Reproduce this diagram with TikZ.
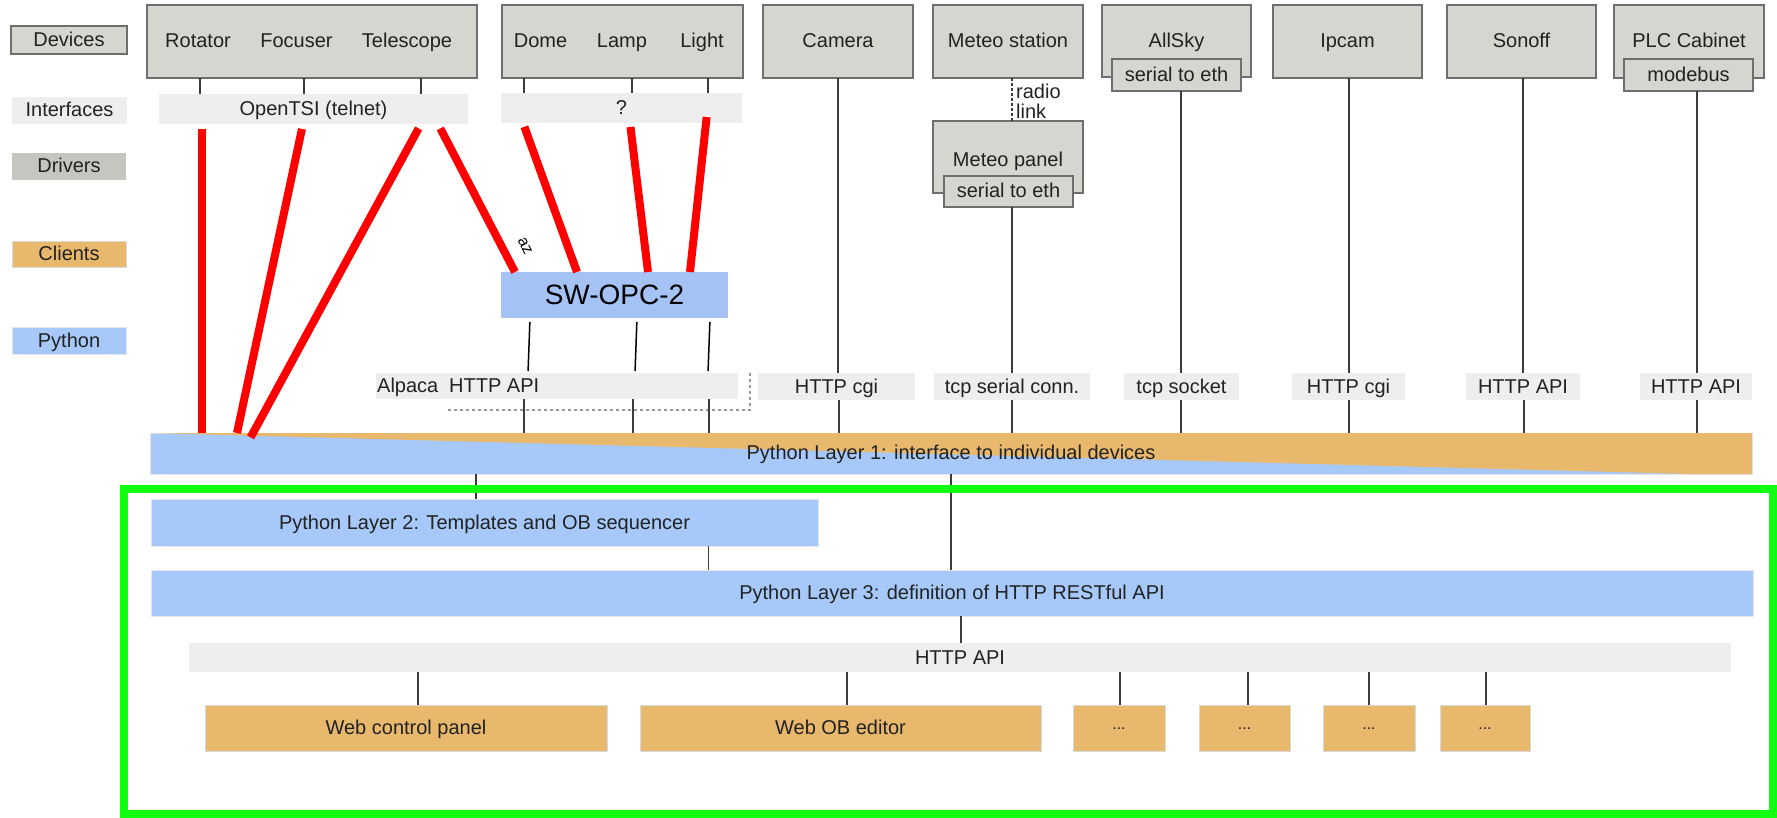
\documentclass[tikz,border=0pt]{standalone}
\usepackage{fontspec}
\setmainfont{Liberation Sans}
\usetikzlibrary{calc}
\definecolor{devfill}{HTML}{D4D6D0}
\definecolor{devline}{HTML}{6E6E6E}
\definecolor{iffill}{HTML}{EEEEEE}
\definecolor{drvfill}{HTML}{C4C6C0}
\definecolor{clifill}{HTML}{E8B86C}
\definecolor{pyfill}{HTML}{A6C9F9}
\definecolor{opcfill}{HTML}{A4C2F4}
\definecolor{wirecol}{HTML}{3C3C3C}
\definecolor{txtcol}{HTML}{222222}
\definecolor{framecol}{HTML}{11FF11}

% box from corner to corner: style, name, x1, y1, x2, y2, text
\newcommand\mkbox[7]{\node[#1, minimum width={#5-#3}, minimum height={#6-#4}]
  (#2) at ({(#3+#5)/2},{(#4+#6)/2}) {#7};}
% vertical wire at a given x between two node anchors
\newcommand\vw[3]{\draw[wire] (#1,0 |- #2) -- (#1,0 |- #3);}

\begin{document}
\begin{tikzpicture}[x=1pt,y=-1pt,
  every node/.style={font=\fontsize{20}{23}\selectfont, text=txtcol},
  box/.style={inner sep=0pt, outer sep=0pt},
  devbox/.style={box, fill=devfill, draw=devline, line width=2pt, text height=14pt, text depth=1pt},
  ifbox/.style={box, fill=iffill, text height=14pt, text depth=1pt},
  drvbox/.style={box, fill=drvfill, text height=14pt, text depth=1pt},
  clibox/.style={box, fill=clifill, draw=black!15, line width=0.8pt, text height=14pt, text depth=1pt},
  pybox/.style={box, fill=pyfill, draw=black!10, line width=0.8pt, text height=14pt, text depth=1pt},
  lbl/.style={anchor=base, inner sep=0pt},
  wire/.style={draw=wirecol, line width=1.8pt},
  redwire/.style={draw=red, line width=8pt},
  dots/.style={font=\fontsize{16}{18}\selectfont, text height=3pt},
]
\useasboundingbox (0,0) rectangle (1777,818);

% ---------- legend ----------
\mkbox{devbox}{lgdev}{11}{26}{127}{54}{Devices}
\mkbox{ifbox}{lgif}{12}{97}{127}{124}{Interfaces}
\mkbox{drvbox}{lgdrv}{12}{153}{126}{180}{Drivers}
\mkbox{clibox}{lgcli}{12}{241}{126}{267}{Clients}
\mkbox{pybox}{lgpy}{12}{327}{126}{354}{Python}

% ---------- devices ----------
\mkbox{devbox}{grpa}{147}{5}{477}{78}{}
\node[lbl] (rot) at (198,48) {Rotator};
\node[lbl] (foc) at (296.5,48) {Focuser};
\node[lbl] (tel) at (407,48) {Telescope};
\mkbox{devbox}{grpb}{502}{5}{743}{78}{}
\node[lbl] (dome) at (540.5,48) {Dome};
\node[lbl] (lamp) at (622,48) {Lamp};
\node[lbl] (light) at (702,48) {Light};
\mkbox{devbox}{cam}{763}{5}{913}{78}{Camera}
\mkbox{devbox}{meteo}{933}{5}{1083}{78}{Meteo station}
\mkbox{devbox}{allsky}{1102}{5}{1251}{77}{AllSky}
\mkbox{devbox}{ipcam}{1273}{5}{1422}{78}{Ipcam}
\mkbox{devbox}{sonoff}{1447}{5}{1596}{78}{Sonoff}
\mkbox{devbox}{plc}{1614}{5}{1764}{78}{PLC Cabinet}
\mkbox{devbox}{alleth}{1112}{59}{1241}{91}{serial to eth}
\mkbox{devbox}{modbus}{1624}{59}{1753}{91}{modebus}

% meteo panel reached over a radio link
\mkbox{devbox}{mpanel}{933}{121}{1083}{193}{}
\node[lbl] (mpaneltxt) at (1008,167) {Meteo panel};
\mkbox{devbox}{mpeth}{944}{176}{1073}{207}{serial to eth}
\draw[wire, dash pattern=on 3pt off 2pt, line width=1.5pt] (1012,0 |- meteo.south) -- (1012,0 |- mpanel.north);
\node[anchor=west, inner sep=0pt] (radio) at (1016,91) {radio};
\node[anchor=west, inner sep=0pt] (link) at (1016,111) {link};

% ---------- interfaces ----------
\mkbox{ifbox}{opentsi}{159}{94}{468}{124}{OpenTSI (telnet)}
\mkbox{ifbox}{qbox}{501}{93}{742}{123}{?}
\mkbox{ifbox}{alpaca}{376}{373}{738}{399}{}
\node[anchor=base west, inner sep=0pt] (alpacatxt) at (377,392) {Alpaca};
\node[anchor=base west, inner sep=0pt] (alpapi) at (449,392) {HTTP API};
\draw[dashed, draw=black!40, line width=1.2pt] (448,410) -- (750,410) -- (750,373);
\mkbox{ifbox}{ifcam}{758}{373}{915}{400}{HTTP cgi}
\mkbox{ifbox}{ifmet}{934}{373}{1090}{400}{tcp serial conn.}
\mkbox{ifbox}{ifsky}{1124}{373}{1239}{400}{tcp socket}
\mkbox{ifbox}{ifip}{1292}{373}{1405}{400}{HTTP cgi}
\mkbox{ifbox}{ifson}{1466}{373}{1580}{400}{HTTP API}
\mkbox{ifbox}{ifplc}{1640}{373}{1752}{400}{HTTP API}

% ---------- driver ----------
\mkbox{box, fill=opcfill, font=\fontsize{28}{32}\selectfont, text=black}{swopc}{501}{272}{728}{318}{SW-OPC-2}

% ---------- python layers ----------
\mkbox{pybox}{py1}{150}{433}{1752}{474}{}
\fill[clifill] (py1.north west) -- (py1.north east) -- (py1.south east)
  -- ($(py1.south east)+(-62,0)$) -- cycle;
\node[text height=14pt, text depth=1pt] (py1txt) at (951,453) {Python Layer 1: interface to individual devices};
\mkbox{pybox}{py2}{151}{499}{818}{546}{Python Layer 2: Templates and OB sequencer}
\mkbox{pybox}{py3}{151}{570}{1753}{616}{Python Layer 3: definition of HTTP RESTful API}
\mkbox{ifbox}{api}{189}{643}{1731}{672}{HTTP API}

% ---------- clients ----------
\mkbox{clibox}{webcp}{205}{705}{607}{751}{Web control panel}
\mkbox{clibox}{webob}{640}{705}{1041}{751}{Web OB editor}
\mkbox{clibox,dots}{cla}{1073}{705}{1165}{751}{...}
\mkbox{clibox,dots}{clb}{1199}{705}{1290}{751}{...}
\mkbox{clibox,dots}{clc}{1323}{705}{1415}{751}{...}
\mkbox{clibox,dots}{cld}{1440}{705}{1530}{751}{...}

% ---------- wires ----------
\vw{200}{grpa.south}{opentsi.north}
\vw{304}{grpa.south}{opentsi.north}
\vw{421}{grpa.south}{opentsi.north}
\vw{524}{grpb.south}{qbox.north}
\vw{632}{grpb.south}{qbox.north}
\vw{708}{grpb.south}{qbox.north}
\vw{838}{cam.south}{ifcam.north}
\vw{1012}{mpeth.south}{ifmet.north}
\vw{1181}{alleth.south}{ifsky.north}
\vw{1349}{ipcam.south}{ifip.north}
\vw{1523}{sonoff.south}{ifson.north}
\vw{1697}{modbus.south}{ifplc.north}
\draw[wire, draw=black, line width=1.5pt, shorten <=4pt, shorten >=2pt] (530,0 |- swopc.south) -- (528,0 |- alpaca.north);
\draw[wire, draw=black, line width=1.5pt, shorten <=4pt, shorten >=2pt] (637,0 |- swopc.south) -- (635,0 |- alpaca.north);
\draw[wire, draw=black, line width=1.5pt, shorten <=4pt, shorten >=2pt] (710,0 |- swopc.south) -- (708,0 |- alpaca.north);
\vw{524}{alpaca.south}{py1.north}
\vw{633}{alpaca.south}{py1.north}
\vw{709}{alpaca.south}{py1.north}
\vw{839}{ifcam.south}{py1.north}
\vw{1012}{ifmet.south}{py1.north}
\vw{1181}{ifsky.south}{py1.north}
\vw{1349}{ifip.south}{py1.north}
\vw{1524}{ifson.south}{py1.north}
\vw{1697}{ifplc.south}{py1.north}
\vw{476}{py1.south}{py2.north}
\vw{951}{py1.south}{py3.north}
\vw{708.5}{py2.south}{py3.north}
\vw{961}{py3.south}{api.north}
\vw{418}{api.south}{webcp.north}
\vw{847}{api.south}{webob.north}
\vw{1120}{api.south}{cla.north}
\vw{1248}{api.south}{clb.north}
\vw{1369}{api.south}{clc.north}
\vw{1486}{api.south}{cld.north}

% ---------- telnet / driver links ----------
\draw[redwire, shorten <=5pt] (202,0 |- opentsi.south) -- (202,0 |- py1.north);
\draw[redwire, shorten <=5pt] (303,0 |- opentsi.south) -- (237,0 |- py1.north);
\draw[redwire, shorten <=5pt, shorten >=-5pt] (421,0 |- opentsi.south) -- (253,0 |- py1.north);
\draw[redwire, shorten <=5pt] (438,0 |- opentsi.south) -- (515,0 |- swopc.north);
\draw[redwire, shorten <=4pt] (523,0 |- qbox.south) -- (577,0 |- swopc.north);
\draw[redwire, shorten <=4pt] (630,0 |- qbox.south) -- (648,0 |- swopc.north);
\draw[redwire, shorten <=-6pt] (706,0 |- qbox.south) -- (690,0 |- swopc.north);
\node[font=\fontsize{16}{18}\selectfont, rotate=-62, text=black, inner sep=0pt] (az) at (525,246) {az};

% ---------- web-facing part ----------
\mkbox{box, draw=framecol, line width=8pt}{frame}{124}{489}{1773}{814}{}
\end{tikzpicture}
\end{document}
